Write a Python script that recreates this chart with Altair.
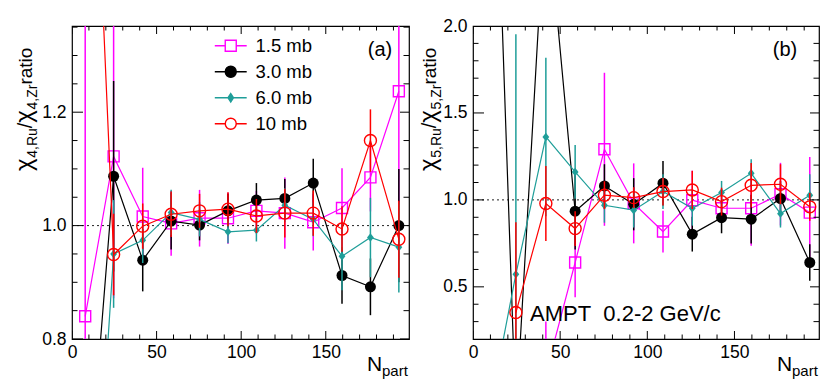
import altair as alt
import pandas as pd

FONT = "Liberation Sans"
SERIES = ["1.5 mb", "3.0 mb", "6.0 mb", "10 mb"]
COLORS = ["#ff00ff", "#000000", "#1f9e99", "#ff0000"]
FILLS = ["transparent", "#000000", "#1f9e99", "transparent"]
SHAPES = ["square", "circle", "M0,-1L0.8,0L0,1L-0.8,0Z", "circle"]
FILLED = [False, True, True, False]
SIZES = [121, 121, 72, 144]
LEG_PATHS = [
    "M-2.9,0H-1M1,0H2.9M-1,-1H1V1H-1Z",
    "M-2.9,0H-1M1,0H2.9M1,0A1,1,0,1,1,-1,0A1,1,0,1,1,1,0Z",
    "M-2.9,0H-0.5M0.5,0H2.9M0,-0.75L0.5,0L0,0.75L-0.5,0Z",
    "M-2.9,0H-1M1,0H2.9M1,0A1,1,0,1,1,-1,0A1,1,0,1,1,1,0Z",
]

# centrality bins (N_part)
N_ALL = [7.8, 24.6, 41.8, 58.6, 75.4, 92.2, 109.0, 125.8, 142.6, 159.6, 176.4, 193.2]

# ---- panel (a): chi4 ratio ----
a15_val = [0.840, 1.122, 1.016, 1.004, 1.013, 1.013, 1.026, 1.022, 1.006, 1.031, 1.085, 1.237]
a15_err = [0.60, 0.25, 0.086, 0.057, 0.050, 0.045, 0.035, 0.063, 0.050, 0.070, 0.060, 0.200]
a30_val = [0.46, 1.087, 0.939, 1.008, 1.001, 1.026, 1.045, 1.048, 1.075, 0.912, 0.892, 1.000]
a30_err = [0.30, 0.168, 0.055, 0.050, 0.027, 0.030, 0.030, 0.034, 0.043, 0.050, 0.050, 0.100]
a60_val = [0.18, 0.950, 0.974, 1.023, 1.011, 0.989, 0.992, 1.036, 1.011, 0.946, 0.979, 0.962]
a60_err = [0.30, 0.095, 0.040, 0.040, 0.030, 0.020, 0.020, 0.030, 0.030, 0.060, 0.070, 0.080]
a10_val = [2.10, 0.949, 0.999, 1.020, 1.026, 1.029, 1.017, 1.022, 1.022, 0.994, 1.150, 0.976]
a10_err = [0.50, 0.072, 0.040, 0.040, 0.030, 0.030, 0.030, 0.043, 0.040, 0.040, 0.055, 0.068]

# ---- panel (b): chi5 ratio ----
b15_val = [0.0, 0.640, 1.291, 0.980, 0.818, 0.998, 0.952, 0.952, 1.033, 0.927]
b15_err = [0.30, 0.200, 0.440, 0.230, 0.120, 0.170, 0.080, 0.216, 0.180, 0.320]
b30_val = [4.6, -0.25, 2.75, 0.935, 1.080, 0.975, 1.096, 0.803, 0.898, 0.889, 1.008, 0.640]
b30_err = [1.0, 0.30, 0.50, 0.220, 0.125, 0.150, 0.128, 0.100, 0.090, 0.140, 0.100, 0.105]
b60_val = [-0.3, 0.573, 1.362, 1.161, 0.969, 0.941, 1.048, 0.952, 1.042, 1.153, 0.921, 1.027]
b60_err = [0.30, 1.380, 0.456, 0.155, 0.100, 0.100, 0.100, 0.100, 0.067, 0.080, 0.080, 0.120]
b10_val = [0.352, 0.979, 0.835, 1.027, 1.013, 1.048, 1.057, 0.990, 1.084, 1.090, 0.960]
b10_err = [0.520, 0.216, 0.100, 0.080, 0.060, 0.080, 0.110, 0.080, 0.128, 0.115, 0.080]

X_LABELS = [0, 50, 100, 150]
X_MINOR = [v for v in range(10, 200, 10) if v % 50 != 0]
A_Y_LABELS = [0.8, 1.0, 1.2]
A_Y_MINOR = [0.85, 0.9, 0.95, 1.05, 1.1, 1.15, 1.25, 1.3, 1.35]
B_Y_LABELS = [0.5, 1.0, 1.5, 2.0]
B_Y_MINOR = [0.3, 0.4, 0.6, 0.7, 0.8, 0.9, 1.1, 1.2, 1.3, 1.4, 1.6, 1.7, 1.8, 1.9]
REF = [1.0]

FS_TICK = 17.5
CHARW = {"χ": 0.55, ",": 0.278, ".": 0.278, " ": 0.278, "/": 0.278, "R": 0.722,
         "u": 0.556, "Z": 0.611, "r": 0.333, "a": 0.556, "t": 0.278, "i": 0.222, "o": 0.556}


def textw(s, fs):
    return sum(CHARW.get(c, 0.556) for c in s) * fs


def series_frame(ns, vals, errs):
    return pd.DataFrame({"N": ns, "v": vals,
                         "lo": [v - e for v, e in zip(vals, errs)],
                         "hi": [v + e for v, e in zip(vals, errs)]})


def txt(s, x, y, fs, align="left", baseline="alphabetic", angle=0):
    kw = dict(font=FONT, fontSize=fs, align=align, baseline=baseline, color="black")
    if angle:
        kw["angle"] = angle
    return alt.Chart(pd.DataFrame({"t": [s]})).mark_text(**kw).encode(
        text="t:N", x=alt.value(x), y=alt.value(y))


def panel(series_data, W, H, xmax, ydom, ylab, ymin, sub, legend, tag, tagx, extra):
    xs = alt.Scale(domain=[0, xmax], nice=False, zero=False)
    ys = alt.Scale(domain=ydom, nice=False, zero=False)
    xaxis = alt.Axis(values=X_LABELS, title=None, ticks=False, domain=False, grid=False,
                     labelFontSize=FS_TICK, labelFont=FONT, labelColor="black", labelPadding=4,
                     labelFlush=False, labelOverlap=False, format="d")
    yaxis = alt.Axis(values=ylab, title=None, ticks=False, domain=False, grid=False,
                     labelFontSize=FS_TICK, labelFont=FONT, labelColor="black", labelPadding=6,
                     labelFlush=False, labelOverlap=False, format=".1f")

    def X(f="N"):
        return alt.X(f + ":Q", scale=xs, axis=xaxis)

    def Y(f):
        return alt.Y(f + ":Q", scale=ys, axis=yaxis)

    layers = []
    # reference line at 1
    layers.append(alt.Chart(pd.DataFrame({"r": REF})).mark_rule(
        strokeDash=[2, 3], color="#222222", strokeWidth=1).encode(y=Y("r")))
    # each series: error bars, connecting line, markers
    for i, df in series_data:
        c = COLORS[i]
        base = alt.Chart(df)
        layers.append(base.mark_rule(clip=True, strokeWidth=1.5, color=c).encode(
            x=X(), y=Y("lo"), y2="hi:Q"))
        layers.append(base.mark_line(clip=True, strokeWidth=1.2, color=c).encode(
            x=X(), y=Y("v"), order="N:Q"))
        layers.append(base.mark_point(shape=SHAPES[i], size=SIZES[i], filled=FILLED[i], color=c,
                                      opacity=1, strokeWidth=1.4, clip=True).encode(
            x=X(), y=Y("v")))

    # inward ticks on all four sides (half of each tick is clipped away)
    def yt(vals, xpos, L):
        return alt.Chart(pd.DataFrame({"t": vals})).mark_tick(
            color="black", thickness=1, size=2 * L, clip=True, opacity=1).encode(
            y=Y("t"), x=alt.value(xpos))

    def xt(vals, ypos, L):
        return alt.Chart(pd.DataFrame({"t": vals})).mark_tick(
            color="black", thickness=1, size=2 * L, clip=True, opacity=1).encode(
            x=X("t"), y=alt.value(ypos))
    layers += [yt(ylab, 0, 11), yt(ymin, 0, 5.5), yt(ylab, W, 9), yt(ymin, W, 5.5),
               xt(X_LABELS, H, 8), xt(X_MINOR, H, 4.5), xt(X_LABELS, 0, 8), xt(X_MINOR, 0, 4.5)]
    if legend:
        LS = 121
        lg = alt.Legend(title=None, orient="none", legendX=149.5, legendY=10.5,
                        labelFontSize=18.5, labelFont=FONT, labelColor="black",
                        symbolSize=LS, symbolStrokeWidth=1.4, labelOffset=15.5,
                        rowPadding=7, padding=0, labelLimit=200)
        ldf = pd.DataFrame({"series": SERIES, "N": [0.0] * 4, "v": [1.0] * 4})
        layers.append(alt.Chart(ldf).transform_filter("false").mark_point(
            opacity=1, strokeWidth=1.4, size=LS).encode(
            x=X(), y=Y("v"),
            shape=alt.Shape("series:N", scale=alt.Scale(domain=SERIES, range=LEG_PATHS), legend=lg),
            stroke=alt.Stroke("series:N", scale=alt.Scale(domain=SERIES, range=COLORS), legend=lg),
            fill=alt.Fill("series:N", scale=alt.Scale(domain=SERIES, range=FILLS), legend=lg)))
    # y title with subscripts (rotated)
    bx = -40 if sub == "4" else -37
    y0 = 145
    pieces = [("χ", 24, 0), (sub + ",Ru", 14, 5), ("/", 20, 0), ("χ", 24, 0),
              (sub + ",Zr", 14, 5), (" ratio", 19, 0)]
    for s, fs, dx in pieces:
        layers.append(txt(s.replace(" ", "\u00a0"), bx + dx, y0, fs, angle=270))
        y0 -= textw(s, fs)
    # x title
    layers.append(txt("N", W - 42, H + 32, 21))
    layers.append(txt("part", W - 27, H + 37, 15))
    layers.append(txt(tag, tagx, 30, 20, align="center"))
    for e in extra:
        layers.append(e)
    return alt.layer(*layers).properties(width=W, height=H)


a_data = [
    (0, series_frame(N_ALL, a15_val, a15_err)),
    (1, series_frame(N_ALL, a30_val, a30_err)),
    (2, series_frame(N_ALL, a60_val, a60_err)),
    (3, series_frame(N_ALL, a10_val, a10_err)),
]
b_data = [
    (0, series_frame(N_ALL[2:], b15_val, b15_err)),
    (1, series_frame(N_ALL, b30_val, b30_err)),
    (2, series_frame(N_ALL, b60_val, b60_err)),
    (3, series_frame(N_ALL[1:], b10_val, b10_err)),
]

left = panel(a_data, 337, 313, 199.2, [0.8, 1.352], A_Y_LABELS, A_Y_MINOR, "4",
             True, "(a)", 308, [])
right = panel(b_data, 346, 313, 198.5, [0.2, 2.0], B_Y_LABELS, B_Y_MINOR, "5",
              False, "(b)", 312, [txt("AMPT\u00a0 0.2-2 GeV/c", 57, 295, 22)])

chart = alt.hconcat(left, right, spacing=64, bounds="flush").resolve_scale(
    x="independent", y="independent"
).properties(
    padding={"left": 4, "top": 8, "right": 0, "bottom": 0}
).configure_view(stroke="black", strokeWidth=1.2)

chart.save("out.html", embed_options={"renderer": "svg", "actions": False})
